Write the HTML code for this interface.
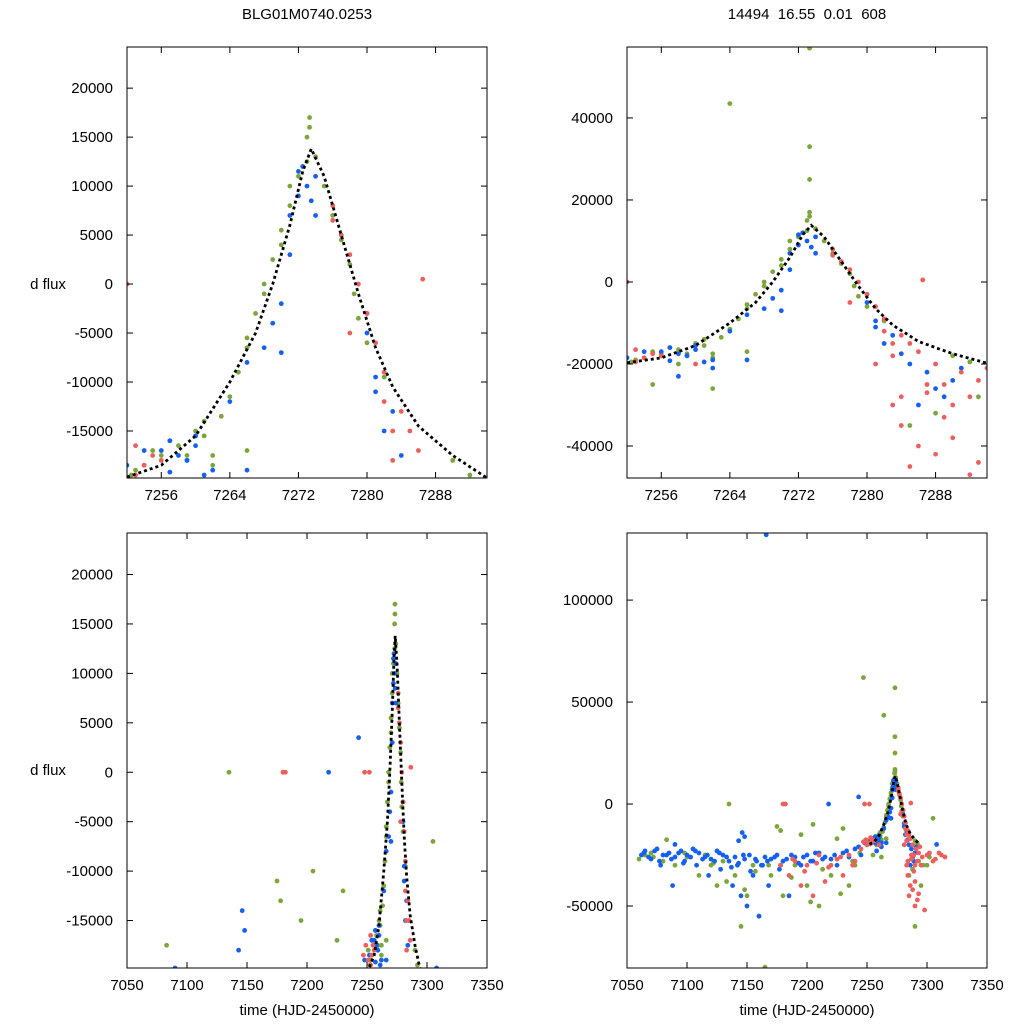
<!DOCTYPE html>
<html><head><meta charset="utf-8"><style>
html,body{margin:0;padding:0;background:#fff;overflow:hidden;width:1024px;height:1024px;font-family:"Liberation Sans",sans-serif}
svg{display:block}
svg text{font-family:"Liberation Sans",sans-serif;font-size:15px;fill:#000}
</style></head><body>
<svg id="chart" width="1024" height="1024">
<text x="307" y="19" text-anchor="middle">BLG01M0740.0253</text>
<text x="807" y="19" text-anchor="middle" xml:space="preserve">14494  16.55  0.01  608</text>
<text x="48" y="289" text-anchor="middle">d flux</text>
<text x="48" y="775" text-anchor="middle">d flux</text>
<text x="307" y="1015" text-anchor="middle">time (HJD-2450000)</text>
<text x="807" y="1015" text-anchor="middle">time (HJD-2450000)</text>
</svg>
<script>
const greenT=[7252.5,7254,7255,7256,7258,7259,7260,7261,7261,7262,7262,7263,7264,7265,7266,7266,7267,7268,7268,7269,7270,7270,7271,7271,7272,7273,7273,7273.3,7273.3,7274,7275,7276,7277,7278,7278.5,7279,7280,7282,7290,7292,
7060,7065,7070,7080,7083,7090,7100,7110,7115,7120,7125,7130,7135,7140,7145,7150,7155,7160,7165,7170,7175,7178,7180,7190,7195,7200,7205,7210,7220,7225,7230,7235,7240,7247,7255,7264,7273.3,7273.3,7273.3,7290,7295,7305,7300,7258,7262,7266,
7072,7098,7122,7133,7148,7157,7168,7187,7203,7213,7228,7238,7244,7251,7253,7257,7285,7288,7293,7297,7302];
const greenF=[-19500,-18500,-17000,-17500,-16500,-17500,-15000,-14000,-15500,-17500,-18500,-13500,-11500,-9000,-6500,-5500,-3000,-1000,0,2500,5500,4000,8000,10000,11000,12500,15000,17000,16000,13000,10000,7000,4500,2000,-1000,-3500,-6000,-9500,-18000,-19500,
-27000,-25000,-24000,-28000,-17500,-30000,-26000,-35000,-25000,-30000,-40000,-28000,0,-35000,-60000,-45000,-30000,-55000,-80000,-35000,-11000,-13000,-45000,-30000,-15000,-40000,-10000,-50000,-35000,-17000,-12000,-40000,-30000,62000,-25000,43500,57000,33000,25000,-60000,-40000,-7000,-30000,-20000,-26000,-17000,
-26000,-24000,-29000,-38000,-42000,-33000,-30000,-36000,-48000,-32000,-44000,-28000,-24000,-18000,-19000,-16000,-35000,-32000,-28000,-30000,-26000];
const blueT=[7256,7257,7258,7259,7260,7260,7262,7264,7266,7268,7269,7270,7270,7271,7271,7272,7272,7272.5,7273,7273.5,7274,7274,7280,7280,7281,7281,7282,7283,7284,7285,7287,7288,7290,7291,7286,7289,7258,7262,7266,
7062,7065,7070,7075,7078,7080,7085,7088,7090,7095,7098,7100,7105,7108,7110,7115,7118,7120,7125,7128,7130,7135,7138,7140,7142,7145,7148,7150,7152,7155,7158,7160,7162,7165,7166,7168,7170,7175,7178,7180,7185,7190,7195,7200,7205,7210,7215,7218,7220,7225,7230,7235,7240,7243,7245,7250,7090,7143,7146,7148,7308,
7064,7068,7073,7077,7083,7087,7093,7097,7103,7107,7113,7117,7123,7127,7133,7137,7143,7147,7153,7157,7163,7167,7173,7177,7183,7187,7193,7197,7203,7207,7213,7223,7233,7243,7248,7252,7254,7257,7259,7261];
const blueF=[-17000,-16000,-17500,-18000,-16500,-15500,-19000,-12000,-8000,-6500,-4000,-7000,-2000,3000,7000,9000,11500,12000,10000,8500,11000,7000,-3000,-5000,-9500,-11000,-15000,-13000,-17500,-20000,-22000,-26000,-24000,-21000,-30000,-28000,-23000,-21000,-19000,
-25000,-23000,-27000,-22000,-30000,-25000,-24000,-40000,-26000,-23000,-28000,-25000,-22000,-30000,-24000,-26000,-35000,-27000,-23000,-32000,-25000,-28000,-40000,-26000,-30000,-45000,-27000,-50000,-25000,-35000,-28000,-55000,-30000,-26000,132000,-40000,-27000,-25000,-30000,-28000,-45000,-26000,-30000,-25000,-28000,-24000,-26000,0,-27000,-30000,-24000,-26000,-22000,3500,-25000,-20000,-19800,-18000,-14000,-16000,-19800,
-24000,-26000,-23000,-28000,-25000,-27000,-24000,-29000,-26000,-23000,-27000,-25000,-28000,-24000,-26000,-31000,-29000,-25000,-33000,-27000,-30000,-28000,-26000,-32000,-27000,-25000,-29000,-26000,-28000,-24000,-27000,-25000,-23000,-21000,-19000,-18500,-17000,-19200,-18000,-19500];
const redT=[7252,7253,7254,7255,7276,7276,7277,7278,7279,7280,7281,7282,7282,7283,7283,7284,7285,7286,7286.5,7288,7289,7290,7291,7292,7293,7294,7284,7286,7288,7290,7283,7292,7293,7287,7289,
7180,7182,7178,7185,7190,7195,7200,7205,7210,7215,7220,7225,7230,7235,7240,7245,7250,7248,7260,7300,7305,7310,7315,7285,7290,7295,7298,
7188,7198,7208,7218,7228,7238,7247,7249,7251,7253,7256,7278,7281,7284,7287,7296,7302,7307,7312];
const redF=[0,-19500,-18500,-17500,8000,6500,5000,3000,0,-3000,-6000,-9000,-12000,-15000,-18000,-13000,-15000,-17000,500,-20000,-25000,-30000,-22000,-28000,-24000,-21000,-35000,-40000,-42000,-38000,-30000,-47000,-44000,-27000,-33000,
0,0,-30000,-35000,-28000,-40000,-30000,-45000,-25000,-38000,-30000,-27000,-35000,-25000,-28000,-22000,-20000,0,-20000,-25000,-28000,-24000,-26000,-45000,-50000,-30000,-52000,
-27000,-33000,-29000,-31000,-26000,-30000,-18500,-17500,-19000,-16500,-18000,-5000,-20000,-28000,-25000,-26000,-24000,-27000,-25000];
const modelT=[7252,7256,7260,7264,7267,7269,7271,7272.5,7273.5,7275,7277,7279,7281,7283,7286,7290,7294];
const modelF=[-19700,-18500,-15500,-10000,-5000,0,6000,11500,13800,11000,5000,-1000,-6500,-10500,-14500,-17500,-19800];
const panels=[
 {n:'top-left',x0:127,x1:487,y0:47,y1:478,xmin:7252,xmax:7294,ymin:-19800,ymax:24200,xt:[7256,7264,7272,7280,7288],yt:[20000,15000,10000,5000,0,-5000,-10000,-15000]},
 {n:'top-right',x0:627,x1:987,y0:47,y1:478,xmin:7252,xmax:7294,ymin:-47800,ymax:57300,xt:[7256,7264,7272,7280,7288],yt:[40000,20000,0,-20000,-40000]},
 {n:'bottom-left',x0:127,x1:487,y0:533,y1:968,xmin:7050,xmax:7350,ymin:-19800,ymax:24200,xt:[7050,7100,7150,7200,7250,7300,7350],yt:[20000,15000,10000,5000,0,-5000,-10000,-15000]},
 {n:'bottom-right',x0:627,x1:987,y0:533,y1:968,xmin:7050,xmax:7350,ymin:-80400,ymax:132900,xt:[7050,7100,7150,7200,7250,7300,7350],yt:[100000,50000,0,-50000]}];
const NS='http://www.w3.org/2000/svg',svg=document.getElementById('chart');
function mk(t,a,p){const e=document.createElementNS(NS,t);for(const k in a)e.setAttribute(k,a[k]);(p||svg).appendChild(e);return e;}
panels.forEach((P,i)=>{
 const sx=v=>P.x0+(v-P.xmin)/(P.xmax-P.xmin)*(P.x1-P.x0);
 const sy=v=>P.y1-(v-P.ymin)/(P.ymax-P.ymin)*(P.y1-P.y0);
 const g=mk('g',{});
 
 
 const cid='c'+i;const cp=mk('clipPath',{id:cid},g);mk('rect',{x:P.x0,y:P.y0,width:P.x1-P.x0,height:P.y1-P.y0},cp);
 const pg=mk('g',{'clip-path':'url(#'+cid+')'},g);
 [[greenT,greenF,'#7aa63c','green'],[blueT,blueF,'#1560f0','blue'],[redT,redF,'#ec5f5c','red']].forEach(([T,F,c,nm])=>{
  T.forEach((t,j)=>{
   if(t<P.xmin||t>P.xmax||F[j]<P.ymin-1000||F[j]>P.ymax+1000)return;
   const d=mk('circle',{cx:sx(t),cy:sy(F[j]),r:2.4,fill:c},pg);
   
   });});
 const path=mk('path',{d:modelT.map((t,j)=>(j?'L':'M')+sx(t)+' '+sy(Math.max(modelF[j],P.ymin))).join(''),fill:'none',stroke:'#000','stroke-width':2.8,'stroke-dasharray':'3,3'},pg);
 
 
 const fr=mk('rect',{x:P.x0,y:P.y0,width:P.x1-P.x0,height:P.y1-P.y0,fill:'none',stroke:'#000','stroke-width':1},g);
 
 
 P.xt.forEach(v=>{const x=sx(v);mk('line',{x1:x,x2:x,y1:P.y1,y2:P.y1-6,stroke:'#000'},g);mk('line',{x1:x,x2:x,y1:P.y0,y2:P.y0+6,stroke:'#000'},g);
  const t=mk('text',{x:x,y:P.y1+22,'text-anchor':'middle'},g);t.textContent=v;
  
  });
 P.yt.forEach(v=>{const y=sy(v);mk('line',{x1:P.x0,x2:P.x0+6,y1:y,y2:y,stroke:'#000'},g);mk('line',{x1:P.x1,x2:P.x1-6,y1:y,y2:y,stroke:'#000'},g);
  const t=mk('text',{x:P.x0-14,y:y+5,'text-anchor':'end'},g);t.textContent=v;
  
  });
});
</script>
</body></html>
